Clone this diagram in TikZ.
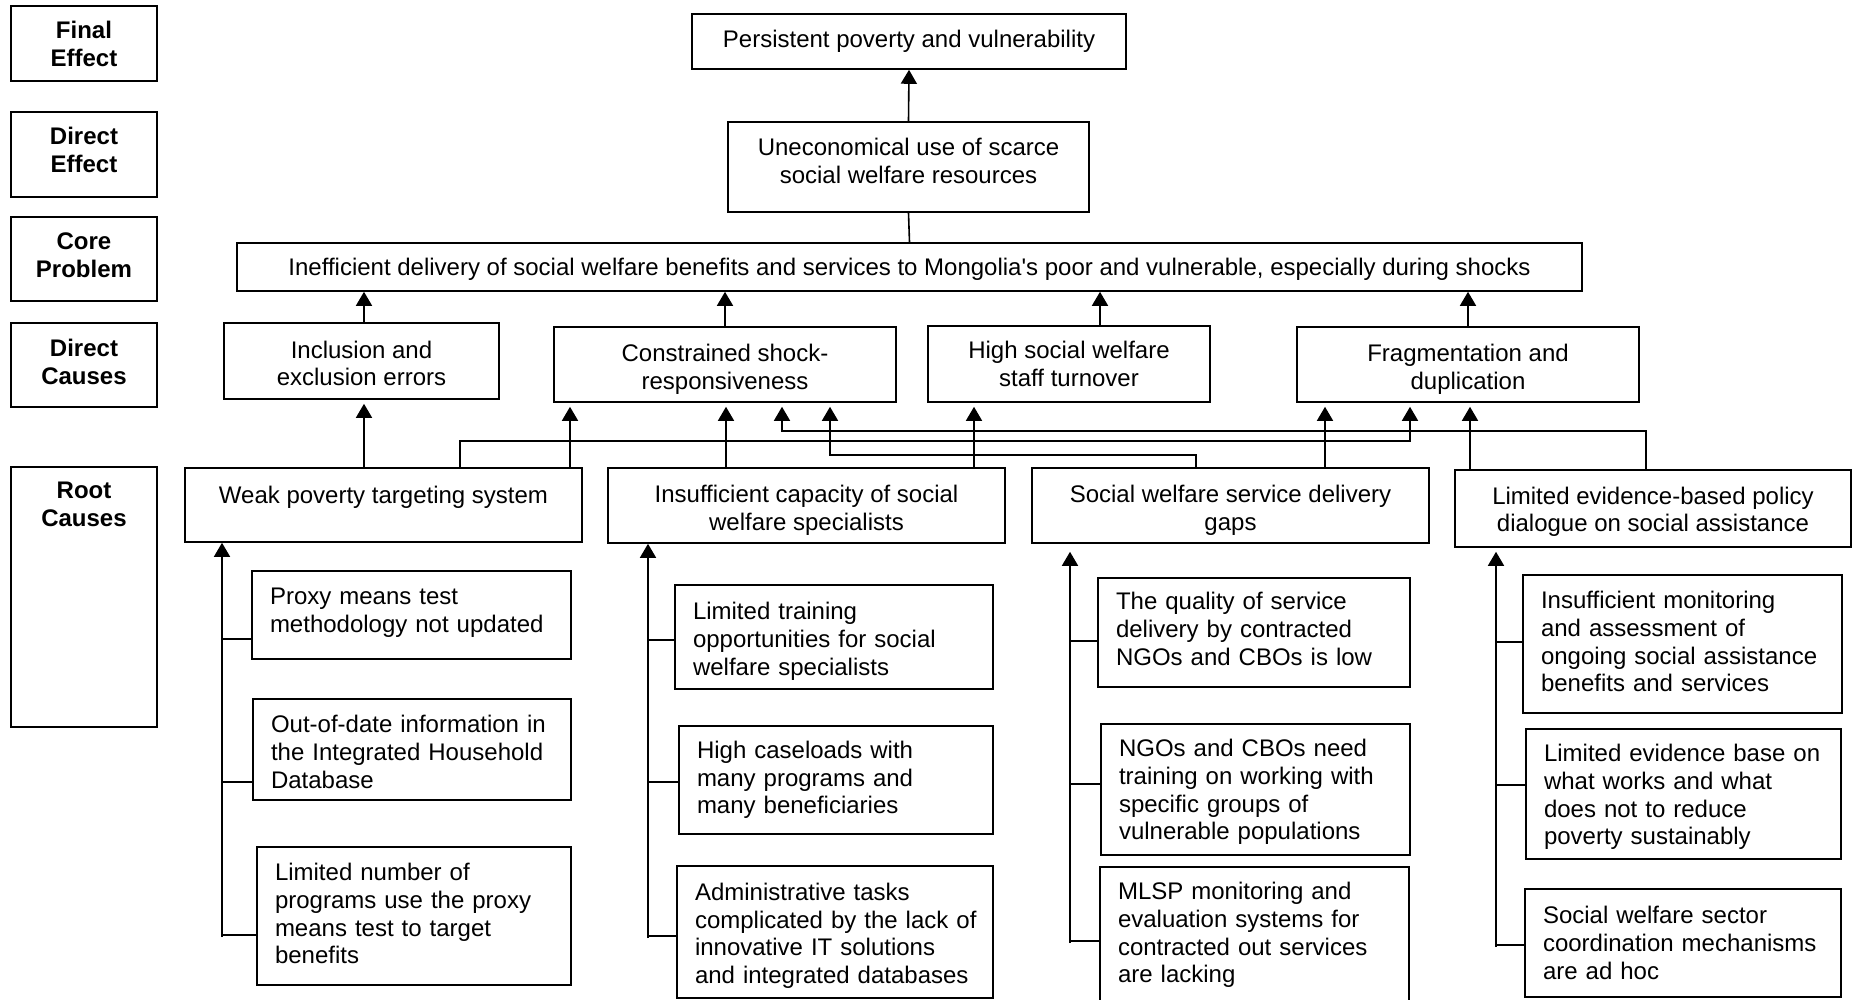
\documentclass[tikz,border=0pt]{standalone}
\usepackage{fontspec}
\setmainfont{Liberation Sans}
\usetikzlibrary{arrows.meta}
\newcommand{\drop}[1]{\rule{0pt}{#1}}

\begin{document}
\begin{tikzpicture}[x=0.5pt, y=-0.5pt, line width=0.8pt,
  >={Triangle[width=8pt,length=7pt]},
  every node/.style={font=\fontsize{12}{13.8}\selectfont},
  lvl/.style={draw, align=center, minimum width=73pt, font=\fontsize{12}{14}\selectfont\bfseries},
  lift/.style={execute at end node={\rule[-#1]{0pt}{#1}}},
  box/.style={draw, align=center, execute at begin node={\rule{0pt}{11pt}}},
  sub/.style={draw, align=left, inner xsep=9pt},
  link/.style={->, shorten >=2pt}]
  \useasboundingbox (0,0) rectangle (1860,1000);

  % level labels
  \node[lvl, minimum height=37.5pt] (lfinal)  at (84,43.5)  {Final\\Effect};
  \node[lvl, lift=5pt, minimum height=42.5pt] (leffect) at (84,154.5) {Direct\\Effect};
  \node[lvl, lift=4pt, minimum height=42pt]   (lcore)   at (84,259)   {Core\\Problem};
  \node[lvl, lift=3.5pt, minimum height=42pt] (lcause)  at (84,365)   {Direct\\Causes};
  \node[lvl, minimum height=130pt,
        label={[anchor=north, align=center, yshift=-4pt, font=\fontsize{12}{14}\selectfont\bfseries]north:{Root\\Causes}}]
        (lroot) at (84,597) {};

  % effects and core problem
  \node[draw, minimum width=217pt, minimum height=27.5pt] (persist) at (909,41.5) {Persistent poverty and vulnerability};
  \node[box, lift=6pt, minimum width=180.5pt, minimum height=45pt] (unecon) at (908.5,167) {Uneconomical use of scarce\\social welfare resources};
  \node[box, minimum width=672.5pt, minimum height=24pt] (core) at (909.5,267) {Inefficient delivery of social welfare benefits and services to Mongolia\textquotesingle s poor and vulnerable, especially during shocks};

  % direct causes
  \node[box, minimum width=137.5pt, minimum height=38pt] (incl) at (361.5,361) {\drop{11.2pt}Inclusion and\\exclusion errors};
  \node[box, minimum width=171pt, minimum height=37.5pt] (shock) at (725,364.5) {\drop{13.2pt}Constrained shock-\\responsiveness};
  \node[box, minimum width=141pt, minimum height=38pt] (turn) at (1069,364) {High social welfare\\staff turnover};
  \node[box, minimum width=171pt, minimum height=37.5pt] (frag) at (1468,364.5) {\drop{13.2pt}Fragmentation and\\duplication};

  % root causes
  \node[box, minimum width=198.5pt, minimum height=37pt] (weak) at (383.5,505) {\drop{12.4pt}Weak poverty targeting system\\\mbox{}};
  \node[box, minimum width=198.5pt, minimum height=37.5pt] (capac) at (806.5,505.5) {\drop{13.2pt}Insufficient capacity of social\\welfare specialists};
  \node[box, minimum width=198.5pt, minimum height=37.5pt] (sdg) at (1230.5,505.5) {\drop{13.2pt}Social welfare service delivery\\gaps};
  \node[box, minimum width=198pt, minimum height=38.5pt] (evid) at (1653,508.5) {\drop{11.8pt}Limited evidence-based policy\\dialogue on social assistance};

  % sub causes
  \node[sub, lift=4.9pt, text width=141.5pt, minimum height=44pt] (proxy) at (411.5,615) {Proxy means test\\methodology not updated};
  \node[sub, text width=141pt, minimum height=50.5pt] (outdate) at (412,749.5) {\drop{11.2pt}Out-of-date information in\\the Integrated Household\\Database};
  \node[sub, lift=2.4pt, text width=139pt, minimum height=69pt] (limnum) at (414,916) {Limited number of\\programs use the proxy\\means test to target\\benefits};

  \node[sub, text width=141pt, minimum height=52pt] (training) at (834,637) {\drop{13pt}Limited training\\opportunities for social\\welfare specialists};
  \node[sub, text width=139pt, minimum height=54pt] (caseload) at (836,780) {High caseloads with\\many programs and\\many beneficiaries};
  \node[sub, text width=140pt, minimum height=66pt] (admin) at (835,932) {\drop{12.4pt}Administrative tasks\\\mbox{complicated by the lack of}\\innovative IT solutions\\and integrated databases};

  \node[sub, lift=3.6pt, text width=138pt, minimum height=54.5pt] (quality) at (1254,632.5) {The quality of service\\delivery by contracted\\NGOs and CBOs is low};
  \node[sub, text width=136.5pt, minimum height=65.5pt] (ngotrain) at (1255.5,789.5) {\drop{11.2pt}NGOs and CBOs need\\training on working with\\specific groups of\\vulnerable populations};
  \node[sub, text width=136.5pt, minimum height=68pt] (mlsp) at (1254.5,935) {MLSP monitoring and\\evaluation systems for\\contracted out services\\are lacking};

  \node[sub, lift=2.4pt, text width=141.5pt, minimum height=69pt] (monitor) at (1682.5,644) {Insufficient monitoring\\and assessment of\\ongoing social assistance\\benefits and services};
  \node[sub, text width=139.5pt, minimum height=65pt] (evbase) at (1683.5,794) {\drop{11.8pt}Limited evidence base on\\what works and what\\does not to reduce\\poverty sustainably};
  \node[sub, text width=140pt, minimum height=54pt] (coord) at (1683,943) {Social welfare sector\\coordination mechanisms\\are ad hoc};

  % upper links
  \draw[->] (unecon.north) -- (persist.south);
  \draw (core.north) -- (unecon.south);
  \draw[->] (364,0 |- incl.north) -- (364,0 |- core.south);
  \draw[->] (shock.north) -- (shock.north |- core.south);
  \draw[->] (1100,0 |- turn.north) -- (1100,0 |- core.south);
  \draw[->] (frag.north) -- (frag.north |- core.south);

  % root causes to direct causes
  \draw[link] (364,0 |- weak.north) -- (364,0 |- incl.south);
  \draw[link] (570,0 |- weak.north) -- (570,0 |- shock.south);
  \draw[link] (460,0 |- weak.north) -- (460,441) -| (1410,0 |- frag.south);
  \draw[link] (726,0 |- capac.north) -- (726,0 |- shock.south);
  \draw[link] (974,0 |- capac.north) -- (974,0 |- turn.south);
  \draw[link] (1196,0 |- sdg.north) -- (1196,455) -| (830,0 |- shock.south);
  \draw[link] (1325,0 |- sdg.north) -- (1325,0 |- frag.south);
  \draw[link] (1646,0 |- evid.north) -- (1646,431) -| (782,0 |- shock.south);
  \draw[link] (1470,0 |- evid.north) -- (1470,0 |- frag.south);

  % sub causes to root causes
  \coordinate (sp1) at (222,937);
  \coordinate (sp2) at (648,938);
  \coordinate (sp3) at (1070,943);
  \coordinate (sp4) at (1496,947);

  \draw[->] (sp1) -- (sp1 |- weak.south);
  \draw (sp1 |- 0,639) -- (proxy.west |- 0,639);
  \draw (sp1 |- 0,782) -- (outdate.west |- 0,782);
  \draw (sp1 |- 0,935) -- (limnum.west |- 0,935);

  \draw[->] (sp2) -- (sp2 |- capac.south);
  \draw (sp2 |- 0,640) -- (training.west |- 0,640);
  \draw (sp2 |- 0,782) -- (caseload.west |- 0,782);
  \draw (sp2 |- 0,936) -- (admin.west |- 0,936);

  \draw[->, shorten >=4pt] (sp3) -- (sp3 |- sdg.south);
  \draw (sp3 |- 0,641) -- (quality.west |- 0,641);
  \draw (sp3 |- 0,784) -- (ngotrain.west |- 0,784);
  \draw (sp3 |- 0,941) -- (mlsp.west |- 0,941);

  \draw[link] (sp4) -- (sp4 |- evid.south);
  \draw (sp4 |- 0,642) -- (monitor.west |- 0,642);
  \draw (sp4 |- 0,785) -- (evbase.west |- 0,785);
  \draw (sp4 |- 0,945) -- (coord.west |- 0,945);
\end{tikzpicture}
\end{document}
